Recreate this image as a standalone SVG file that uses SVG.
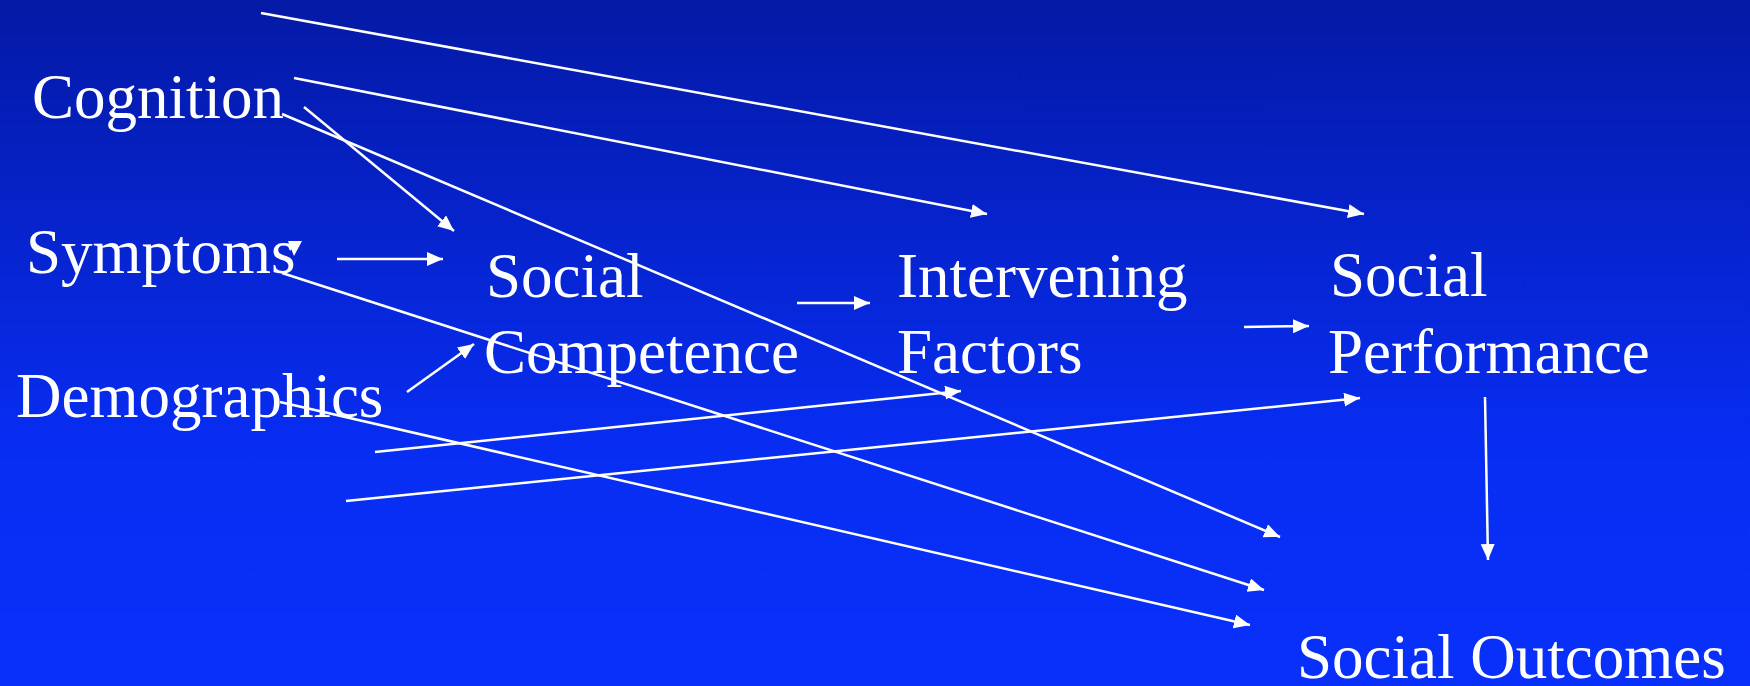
<svg xmlns="http://www.w3.org/2000/svg" width="1750" height="686" viewBox="0 0 1750 686">
<defs>
<linearGradient id="bg" x1="0" y1="0" x2="0" y2="1">
<stop offset="0" stop-color="#0419A5"/>
<stop offset="0.65" stop-color="#082DF2"/>
<stop offset="1" stop-color="#0930FA"/>
</linearGradient>
<marker id="ah" markerUnits="userSpaceOnUse" markerWidth="18" markerHeight="16" refX="16" refY="7" orient="auto">
<path d="M0,0 L16,7 L0,14 z" fill="#fff"/>
</marker>
<style>
.t{font-family:"Liberation Serif","Times New Roman",serif;font-size:63px;fill:#fff}
.c{stroke:#fff;stroke-width:2.5;fill:none;marker-end:url(#ah)}
</style>
</defs>
<rect width="1750" height="686" fill="url(#bg)"/>
<g id="cognition"><text class="t" x="32" y="118">Cognition</text></g>
<g id="symptoms"><text class="t" x="26" y="273">Symptoms</text></g>
<g id="demographics"><text class="t" x="16" y="417">Demographics</text></g>
<g id="social-competence"><text class="t" x="486" y="297">Social</text><text class="t" x="484" y="373">Competence</text></g>
<g id="intervening-factors"><text class="t" x="897" y="297">Intervening</text><text class="t" x="897" y="373">Factors</text></g>
<g id="social-performance"><text class="t" x="1330" y="296">Social</text><text class="t" x="1328" y="373">Performance</text></g>
<g id="social-outcomes"><text class="t" x="1297" y="678">Social Outcomes</text></g>
<g id="connectors">
<line class="c" x1="261" y1="13" x2="1364" y2="214"/>
<line class="c" x1="294" y1="78" x2="987" y2="214"/>
<line class="c" x1="304" y1="107" x2="454" y2="231"/>
<line class="c" x1="282" y1="114" x2="1280" y2="537"/>
<line class="c" x1="337" y1="259" x2="443" y2="259"/>
<polygon points="288,241 302,241 294,256" fill="#fff"/>
<line class="c" x1="282" y1="273" x2="1264" y2="590"/>
<line class="c" x1="407" y1="392" x2="474" y2="344"/>
<line class="c" x1="280" y1="402" x2="1250" y2="625"/>
<line class="c" x1="797" y1="303" x2="870" y2="303"/>
<line class="c" x1="1244" y1="327" x2="1309" y2="326"/>
<line class="c" x1="375" y1="452" x2="961" y2="391"/>
<line class="c" x1="346" y1="501" x2="1360" y2="398"/>
<line class="c" x1="1485" y1="397" x2="1488" y2="560"/>
</g>
</svg>
